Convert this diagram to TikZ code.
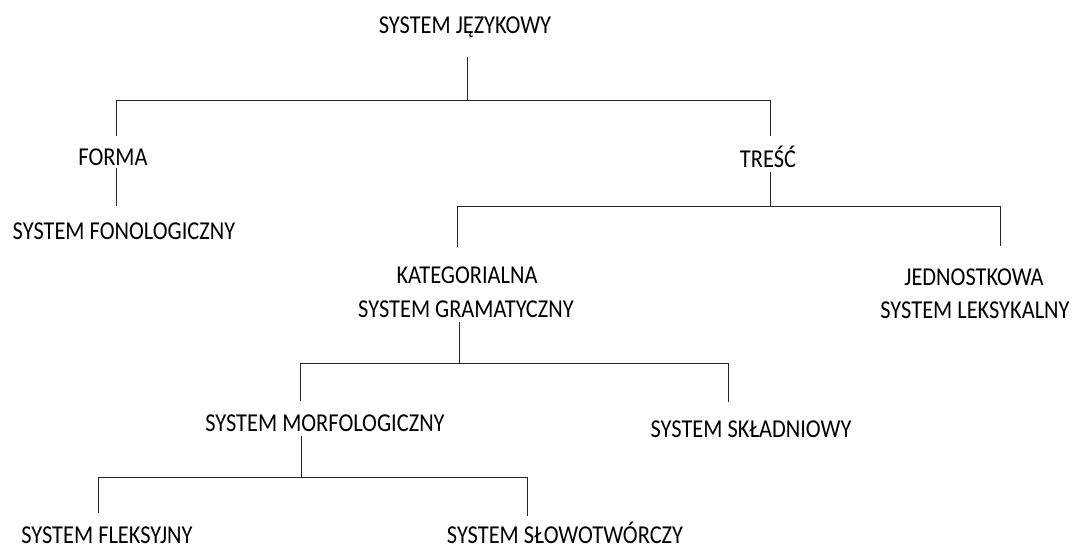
\documentclass[tikz,border=0pt]{standalone}
\usepackage{fontspec}
\setmainfont{Carlito}
\begin{document}
\begin{tikzpicture}[x=1pt,y=-1pt,
  lbl/.style={anchor=base,inner sep=0pt,yscale=1.15,transform shape,
    font=\fontsize{22.4}{28}\selectfont},
  conn/.style={draw=black!85,line width=1pt}]
\useasboundingbox (0,0) rectangle (1072,550);
% nodes (positioned on their baselines)
\node[lbl] (root) at (465,33) {SYSTEM JĘZYKOWY};
\node[lbl] (forma) at (113,165) {FORMA};
\node[lbl] (fon) at (124,239) {SYSTEM FONOLOGICZNY};
\node[lbl] (tresc) at (768,167) {TREŚĆ};
\node[lbl] (kat) at (467,283) {KATEGORIALNA};
\node[lbl] (gram) at (466,317) {SYSTEM GRAMATYCZNY};
\node[lbl] (jedn) at (974,285) {JEDNOSTKOWA};
\node[lbl] (leks) at (975,318) {SYSTEM LEKSYKALNY};
\node[lbl] (morf) at (325,431) {SYSTEM MORFOLOGICZNY};
\node[lbl] (skl) at (751,437) {SYSTEM SKŁADNIOWY};
\node[lbl] (fleks) at (107,543) {SYSTEM FLEKSYJNY};
\node[lbl] (slow) at (565,543) {SYSTEM SŁOWOTWÓRCZY};
% connector end points
\coordinate (rootB) at (467,57);
\coordinate (formaT) at (116,136);
\coordinate (formaB) at (116,168);
\coordinate (fonT) at (116,206);
\coordinate (trescT) at (770,136);
\coordinate (trescB) at (770,172);
\coordinate (katT) at (457,247);
\coordinate (jednT) at (1000,246);
\coordinate (gramB) at (459,322);
\coordinate (bar3) at (459,363);
\coordinate (morfT) at (300,401);
\coordinate (sklT) at (728,402);
\coordinate (morfB) at (301,436);
\coordinate (bar4) at (301,477);
\coordinate (fleksT) at (98,513);
\coordinate (slowT) at (527,516);
% connectors
\draw[conn] (rootB) -- (467,100);
\draw[conn] (formaT) |- (trescT |- 0,100) -- (trescT);
\draw[conn] (formaB) -- (fonT);
\draw[conn] (trescB) -- (770,206);
\draw[conn] (katT) |- (jednT |- 0,206) -- (jednT);
\draw[conn] (gramB) -- (bar3);
\draw[conn] (morfT) |- (sklT |- 0,363) -- (sklT);
\draw[conn] (morfB) -- (bar4);
\draw[conn] (fleksT) |- (slowT |- 0,477) -- (slowT);
\end{tikzpicture}
\end{document}
